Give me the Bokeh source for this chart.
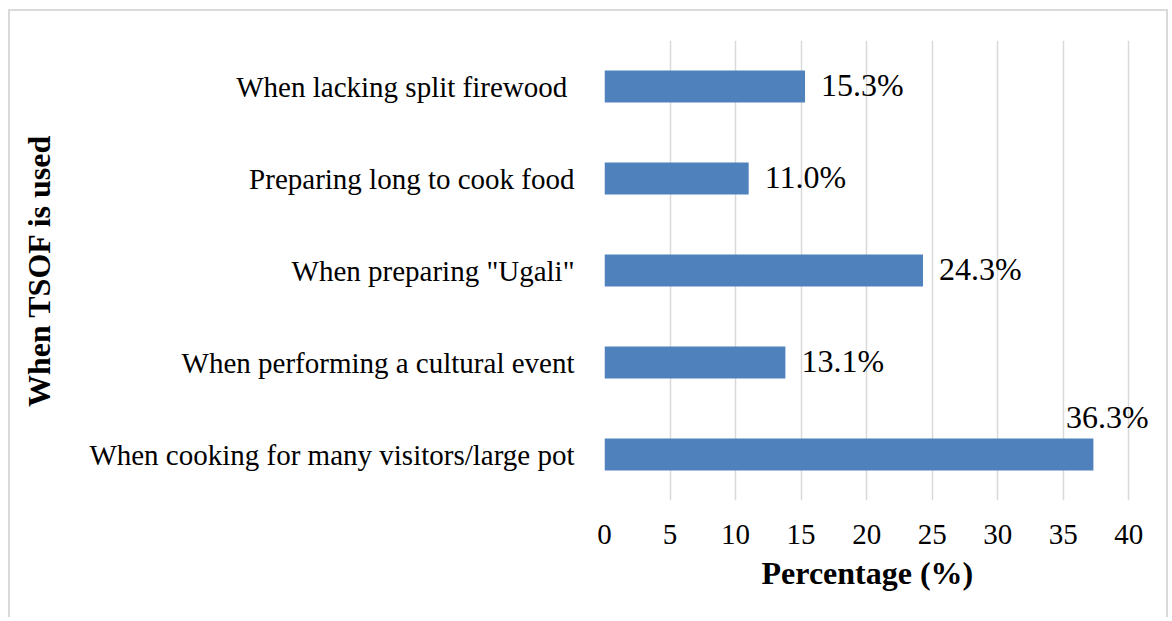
from bokeh.plotting import figure
from bokeh.models import ColumnDataSource, FactorRange, Title
from bokeh.core.properties import value
from bokeh.embed import file_html
from bokeh.resources import INLINE

# categories listed top to bottom as in the chart
categories = [
    "When lacking split firewood ",
    "Preparing long to cook food",
    "When preparing \"Ugali\"",
    "When performing a cultural event",
    "When cooking for many visitors/large pot",
]
bar_values = [15.3, 11.0, 24.3, 13.8, 37.3]
bar_labels = ["15.3%", "11.0%", "24.3%", "13.1%", "36.3%"]
x_ticks = [0, 5, 10, 15, 20, 25, 30, 35, 40]

FONT = "Liberation Serif"
BAR_COLOR = "#4F81BD"

p = figure(
    y_range=FactorRange(factors=list(reversed(categories))),
    x_range=(0, 42.8),
    width=1160, height=608,
    output_backend="svg", toolbar_location=None,
    min_border_left=594, min_border_right=5,
    min_border_top=29, min_border_bottom=119,
)
p.margin = (9, 0, 0, 8)
p.styles = {"border-left": "2px solid #d9d9d9",
            "border-top": "2px solid #d9d9d9",
            "border-right": "2px solid #d9d9d9"}
p.outline_line_color = None
p.background_fill_color = "white"
p.border_fill_color = "white"

src = ColumnDataSource(dict(cat=categories, val=bar_values, lab=bar_labels))
p.hbar(y="cat", right="val", left=0, height=0.35, source=src,
       fill_color=BAR_COLOR, line_color=None)

# data labels: right of bar end, last one sits above the bar end
n = len(categories)
x_off = [16] * (n - 1) + [14]
y_off = [-2] * (n - 1) + [-38]
align = ["left"] * (n - 1) + ["center"]
lsrc = ColumnDataSource(dict(cat=categories, val=bar_values, lab=bar_labels,
                             xo=x_off, yo=y_off, al=align))
p.text(x="val", y="cat", text="lab", source=lsrc, x_offset="xo", y_offset="yo",
       text_align="al", text_baseline="middle",
       text_font=value(FONT), text_font_size="32px", text_color="black")

# grid
p.ygrid.grid_line_color = None
p.xgrid.grid_line_color = "#d9d9d9"
p.xgrid.grid_line_width = 1.5
p.xaxis.ticker = x_ticks

# x axis
xa = p.xaxis[0]
xa.axis_line_color = None
xa.major_tick_line_color = None
xa.minor_tick_line_color = None
xa.major_label_standoff = 18
xa.major_label_text_font = FONT
xa.major_label_text_font_size = "29px"
xa.major_label_text_color = "black"

# x axis title, centred under the 0-40 span
p.add_layout(Title(text="Percentage (%)", align="left", offset=157,
                   text_font=FONT, text_font_size="32px",
                   text_font_style="bold", text_color="black",
                   standoff=12), "below")

# y axis
ya = p.yaxis[0]
ya.axis_line_color = None
ya.major_tick_line_color = None
ya.minor_tick_line_color = None
ya.major_label_standoff = 24
ya.major_label_text_font = FONT
ya.major_label_text_font_size = "29px"
ya.major_label_text_color = "black"
ya.axis_label = "When TSOF is used"
ya.axis_label_text_font = FONT
ya.axis_label_text_font_size = "32px"
ya.axis_label_text_font_style = "bold"
ya.axis_label_text_color = "black"
ya.axis_label_standoff = 29

open("out.html", "w").write(file_html(p, INLINE))
